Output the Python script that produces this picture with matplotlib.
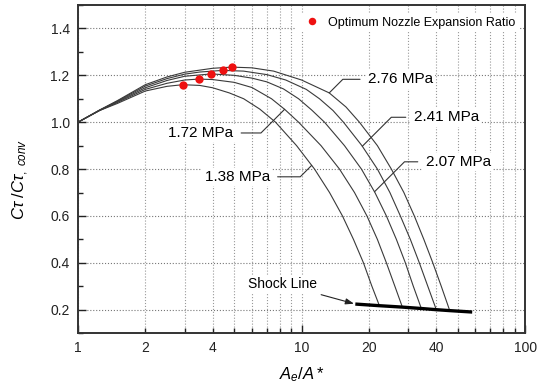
import numpy as np
import matplotlib
matplotlib.use("Agg")
import matplotlib.pyplot as plt
from matplotlib.ticker import FixedLocator, FuncFormatter, MultipleLocator

plt.rcParams['font.family'] = ['Liberation Sans', 'DejaVu Sans']
plt.rcParams['mathtext.fontset'] = 'custom'
plt.rcParams['mathtext.rm'] = 'Liberation Sans'
plt.rcParams['mathtext.it'] = 'Liberation Sans:italic'

# ---- data ----
labels = ["1.38 MPa", "1.72 MPa", "2.07 MPa", "2.41 MPa", "2.76 MPa"]

x138 = [1, 1.25, 1.5, 2, 2.5, 2.94, 3.5, 4, 4.75, 5.51, 6.5, 7.65, 9.50, 11.43, 13.34, 15.24, 17.07, 18.92, 20.64, 22.30]
y138 = [1.0, 1.05, 1.08, 1.133, 1.153, 1.160, 1.157, 1.147, 1.125, 1.10, 1.056, 1.0, 0.9, 0.8, 0.7, 0.6, 0.5, 0.4, 0.3, 0.217]

x172 = [1, 1.25, 1.5, 2, 2.5, 3, 3.47, 4, 5, 6, 7.34, 8.4, 9.70, 12.22, 14.78, 17.25, 19.61, 21.84, 23.96, 26.15, 28.25]
y172 = [1.0, 1.05, 1.084, 1.14, 1.166, 1.18, 1.184, 1.182, 1.17, 1.148, 1.10, 1.055, 1.0, 0.9, 0.8, 0.7, 0.6, 0.5, 0.4, 0.3, 0.211]

x207 = [1, 1.25, 1.5, 2, 2.5, 3, 3.95, 5, 6, 7, 8.3, 9.70, 11.1, 12.67, 15.56, 18.53, 21.29, 23.96, 26.56, 29.13, 31.62, 34.35]
y207 = [1.0, 1.051, 1.087, 1.147, 1.178, 1.196, 1.206, 1.2, 1.188, 1.172, 1.142, 1.10, 1.052, 1.0, 0.9, 0.8, 0.7, 0.6, 0.5, 0.4, 0.3, 0.205]

x241 = [1, 1.25, 1.5, 2, 2.5, 3, 3.5, 4.43, 5.5, 7, 8.5, 10.5, 12.03, 13.82, 15.40, 18.62, 21.84, 24.84, 27.67, 30.67, 33.64, 36.71, 40.07]
y241 = [1.0, 1.052, 1.09, 1.154, 1.186, 1.205, 1.214, 1.221, 1.218, 1.203, 1.18, 1.14, 1.10, 1.05, 1.0, 0.9, 0.8, 0.7, 0.6, 0.5, 0.4, 0.3, 0.2]

x276 = [1, 1.25, 1.5, 2, 2.5, 3, 4, 4.87, 6, 7.5, 10, 13.3, 15.8, 18.15, 21.84, 25.22, 28.69, 31.95, 35.24, 38.65, 42.17, 46.02]
y276 = [1.0, 1.052, 1.092, 1.16, 1.193, 1.213, 1.23, 1.235, 1.232, 1.218, 1.18, 1.125, 1.065, 1.0, 0.9, 0.8, 0.7, 0.6, 0.5, 0.4, 0.3, 0.196]

opt_x = [2.94, 3.47, 3.95, 4.43, 4.87]
opt_y = [1.16, 1.184, 1.206, 1.221, 1.235]

shock_x = [17.4, 22.3, 28.25, 34.35, 40.07, 46.02, 58]
shock_y = [0.224, 0.217, 0.211, 0.205, 0.200, 0.196, 0.19]

xticklabels_shown = [1, 2, 4, 10, 20, 40, 100]

curves_x = [x138, x172, x207, x241, x276]
curves_y = [y138, y172, y207, y241, y276]

# ---- figure ----
fig = plt.figure(figsize=(5.38, 3.86), dpi=100)
ax = fig.add_axes([0.145, 0.137, 0.831, 0.850])

ax.set_xscale('log')
ax.set_xlim(1, 100)
ax.set_ylim(0.1, 1.5)

for cx, cy in zip(curves_x, curves_y):
    ax.plot(cx, cy, color='#3a3a3a', lw=0.8, zorder=3)

ax.plot(shock_x, shock_y, color='black', lw=2.4, solid_capstyle='butt', zorder=4)
ax.plot(opt_x, opt_y, 'o', color='#ee1111', ms=6, mec='none', zorder=5,
        label='Optimum Nozzle Expansion Ratio')

# ticks
ax.xaxis.set_major_locator(FixedLocator([1, 10, 100]))
minors = [m * d for d in (1, 10) for m in range(2, 10)]
ax.xaxis.set_minor_locator(FixedLocator(minors))
fmt = FuncFormatter(lambda v, p: ('%g' % v) if any(abs(v - t) < 1e-6 for t in xticklabels_shown) else '')
ax.xaxis.set_major_formatter(fmt)
ax.xaxis.set_minor_formatter(fmt)
ax.yaxis.set_major_locator(MultipleLocator(0.2))
ax.yaxis.set_minor_locator(MultipleLocator(0.1))
ax.yaxis.set_major_formatter(FuncFormatter(lambda v, p: '%.1f' % v))

ax.tick_params(which='both', direction='in', top=False, right=False, labelsize=10, colors='#222222')
ax.tick_params(which='major', length=6, width=1.0, pad=6)
ax.tick_params(which='minor', length=3.5, width=1.0, pad=6)

ax.grid(True, which='major', axis='y', linestyle=':', color='#777777', lw=0.8)
ax.grid(True, which='both', axis='x', linestyle=':', color='#999999', lw=0.8)
ax.set_axisbelow(True)

for s in ax.spines.values():
    s.set_linewidth(1.4)
    s.set_color('#333333')

ax.set_xlabel(r'$A_e/A*$', fontsize=12)
ax.xaxis.set_label_coords(0.5, -0.098)
ax.set_ylabel(r'$C\tau\ /C\tau_{,\ conv}$', fontsize=12)
ax.yaxis.set_label_coords(-0.105, 0.47)

leg = ax.legend(loc='upper right', frameon=True, fontsize=9, handletextpad=0.3,
                borderpad=0.3, bbox_to_anchor=(1.0, 0.995), markerscale=0.9)
leg.get_frame().set_facecolor('white')
leg.get_frame().set_edgecolor('none')
leg.get_frame().set_alpha(1)

# labels with leaders
lab_pos = [(5.15, 0.767), (3.54, 0.954), (50.2, 0.831), (44.4, 1.021), (27.7, 1.183)]
lead_x = [11.1, 8.4, 21.2, 18.7, 13.3]
for lab, (tx, ty), lx, cx, cy in zip(labels, lab_pos, lead_x, curves_x, curves_y):
    ly = np.interp(np.log10(lx), np.log10(cx), cy)
    ax.annotate(lab, xy=(lx, ly), xytext=(tx, ty), fontsize=11, ha='center', va='center',
                bbox=dict(boxstyle='square,pad=0.15', fc='white', ec='none'),
                arrowprops=dict(arrowstyle='-', color='#333333', lw=0.8,
                                connectionstyle='angle,angleA=0,angleB=45,rad=0',
                                shrinkA=4, shrinkB=0), zorder=6)

ax.annotate('Shock Line', xy=(shock_x[0], shock_y[0]), xytext=(8.23, 0.309), fontsize=10,
            ha='center', va='center',
            bbox=dict(boxstyle='square,pad=0.15', fc='white', ec='none'),
            arrowprops=dict(arrowstyle='-|>,head_length=0.5,head_width=0.18', color='#222222',
                            lw=0.8, shrinkA=4, shrinkB=1), zorder=6)

fig.savefig('out.png', dpi=100)
